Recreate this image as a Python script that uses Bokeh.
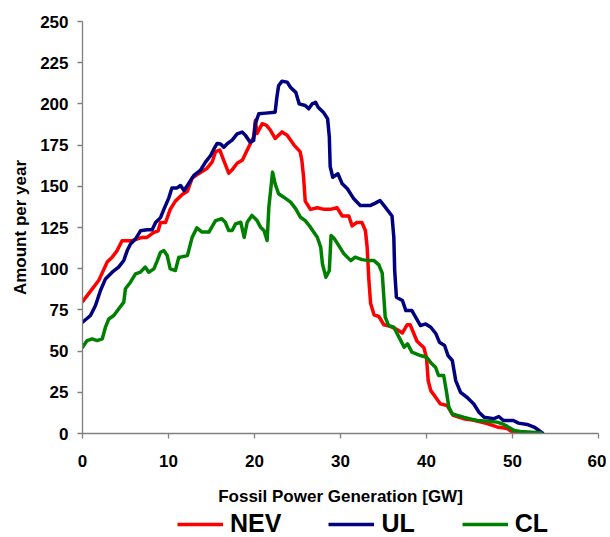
from bokeh.plotting import figure
from bokeh.models import Range1d, Legend, LegendItem, FixedTicker
from bokeh.layouts import column
from bokeh.embed import file_html
from bokeh.resources import INLINE

# ---- data ----
x_ticks = [0, 10, 20, 30, 40, 50, 60]
y_ticks = [0, 25, 50, 75, 100, 125, 150, 175, 200, 225, 250]

nev_x = [0, 0.74, 1.9, 2.87, 3.45, 4.03, 4.6, 5.19, 5.78, 6.94, 7.5, 8.3, 8.8, 9.07, 9.65,
         10.2, 10.8, 11.6, 12.2, 12.75, 13.3, 13.9, 14.5, 15.1, 15.47, 15.97, 16.4, 17.0,
         17.4, 17.98, 18.6, 19.34, 19.9, 20.1, 20.3, 20.9, 21.4, 21.86, 22.4, 23.2, 23.8,
         24.6, 25.3, 25.5, 25.7, 25.9, 26.5, 27.3, 28.1, 28.8, 29.6, 30.2, 30.97, 31.35,
         31.9, 32.5, 32.9, 33.1, 33.3, 33.5, 33.9, 34.46, 35.04, 35.8, 36.6, 37.2, 37.76,
         38.1, 38.9, 39.7, 40.0, 40.2, 40.5, 41.06, 41.6, 42.4, 43.1, 44.3, 45.5, 47.05,
         48.2, 49.4, 49.9, 50.9, 51.6]
nev_y = [80, 85, 93, 104, 107, 111, 117, 117, 117, 119, 119, 122, 123, 128, 128,
         136, 141, 145, 147, 155, 157, 159, 161, 165, 171, 172, 166, 158,
         160, 164, 166, 174, 180, 190, 182, 188, 187, 184, 179, 183, 181,
         175, 171, 166, 156, 141, 136, 137, 136, 136, 137, 132, 132, 126,
         128, 128, 123, 113, 93, 79, 72, 71, 66, 65, 63, 61, 66,
         66, 56, 52, 46, 32, 26, 22, 18, 17, 11, 9, 8, 6,
         4, 3, 1.2, 0.6, 0]

ul_x = [0, 0.93, 1.51, 2.09, 2.67, 3.45, 4.2, 4.8, 5.2, 5.58, 6.16, 6.74, 7.5, 8.1, 8.5,
        9.07, 9.46, 10.04, 10.4, 11.0, 11.4, 11.8, 12.2, 12.95, 13.7, 14.3, 14.9, 15.3,
        15.66, 16.05, 16.43, 16.8, 17.4, 17.98, 18.56, 18.95, 19.5, 19.9, 20.1, 20.5,
        21.3, 22.4, 22.6, 22.8, 23.2, 23.8, 24.2, 24.8, 25.2, 25.9, 26.3, 26.7, 27.1,
        27.4, 28.0, 28.5, 28.7, 28.8, 29.1, 29.7, 30.2, 30.8, 31.55, 32.3, 33.5, 34.05,
        34.6, 35.2, 35.99, 36.2, 36.3, 36.5, 37.2, 37.6, 38.3, 39.3, 39.9, 40.5, 41.1,
        41.5, 42.1, 42.5, 43.0, 43.4, 43.96, 44.7, 45.5, 46.1, 46.7, 47.8, 48.4, 48.95,
        50.1, 50.7, 51.7, 52.5, 53.1, 53.5]
ul_y = [67.5, 71.6, 77.7, 86.8, 93.8, 97.9, 101, 105, 111, 115, 118, 123, 123.6, 123.6, 128,
        131, 136, 143, 149, 149, 150.5, 147.4, 150.5, 156.6, 159.6, 164.7, 168.7, 172.8,
        176, 175.7, 173.7, 175.7, 178, 181.8, 182.9, 180.9, 176.8, 177.8, 188, 194,
        194.4, 195, 204, 211, 213.8, 213.2, 210, 207, 200, 199, 197, 200, 201,
        198, 195, 191, 180, 162, 155.5, 157.6, 151.5, 148.5, 142.4, 138.4, 138.4, 139.8,
        141.4, 137.4, 132, 119, 99, 82.7, 80.7, 74.6, 74.6, 65.5, 66.5, 64.5, 60.5,
        55.4, 53.4, 47.3, 44.3, 32.1, 25, 22, 17.9, 12.9, 9.9, 8.9, 10.3, 7.9,
        7.9, 6.3, 5.5, 3.9, 1.8, 0.2]

cl_x = [0, 0.54, 1.12, 1.7, 2.29, 2.67, 3.06, 3.64, 4.2, 4.8, 4.99, 5.58, 6.16, 6.74, 7.3,
        7.7, 8.3, 8.7, 9.07, 9.46, 9.85, 10.2, 10.8, 11.2, 11.4, 12.2, 12.75, 13.3, 13.9,
        14.7, 15.47, 16.2, 16.6, 17.0, 17.4, 17.8, 18.4, 18.8, 19.15, 19.7, 20.3, 20.7,
        21.1, 21.47, 21.67, 22.1, 22.4, 22.8, 23.4, 24.2, 24.8, 25.35, 25.9, 26.5, 27.3,
        27.7, 27.9, 28.3, 28.7, 28.9, 29.3, 29.8, 30.4, 31.2, 31.7, 32.5, 33.3, 33.9,
        34.46, 34.85, 35.2, 35.6, 36.2, 36.8, 37.4, 37.8, 38.3, 39.3, 40.0, 40.5, 41.05,
        41.4, 42.0, 42.3, 42.6, 42.98, 43.6, 44.3, 45.1, 45.9, 47.05, 48.2, 48.8, 49.4,
        50.2, 50.9, 52.2, 53.3]
cl_y = [52.4, 56.4, 57.4, 56.4, 57.4, 64.5, 69.5, 71.6, 75.6, 79.7, 87.8, 91.8, 96.9, 97.9, 101,
        97.9, 99.9, 104.9, 110, 111, 108, 99.9, 98.9, 107, 107, 108, 119, 124.8, 122.2,
        122.2, 129.2, 130.3, 128.2, 123.2, 123.2, 127.2, 128.2, 119, 128.2, 132.3, 129.2, 125.2,
        123.2, 117.1, 137.4, 158.6, 151.5, 145.5, 143.4, 140.4, 136.3, 131.2, 129.2, 125.2, 119.1,
        113, 102.9, 94.8, 98.9, 120.1, 118.1, 114, 109, 104.9, 107, 105.5, 104.9, 104.9,
        102.3, 97.3, 70.6, 65.5, 64.5, 58.5, 52.4, 54.4, 49.4, 47.3, 46.3, 43, 40.2,
        35.2, 35.2, 26, 16, 11.9, 10.9, 9.9, 8.9, 7.9, 7.5, 6.9, 5.9, 4.3,
        1.8, 1.2, 0.8, 0.4]

series_names = ["NEV", "UL", "CL"]
series_colors = ["#ff0000", "#000080", "#008000"]
series_x = [nev_x, ul_x, cl_x]
series_y = [nev_y, ul_y, cl_y]

FONT = "Liberation Sans"
LW = 3.5
NAN = float("nan")

# ---- main chart ----
p = figure(width=606, height=508, output_backend="svg", toolbar_location=None,
           x_range=Range1d(0, 60), y_range=Range1d(0, 250),
           min_border_left=82, min_border_right=8, min_border_top=21, min_border_bottom=75)
p.outline_line_color = None
p.xgrid.visible = False
p.ygrid.visible = False

for xs, ys, col in zip(series_x, series_y, series_colors):
    p.line(xs, ys, line_color=col, line_width=LW, line_join="round", line_cap="round")

for ax, ticks in [(p.xaxis, x_ticks), (p.yaxis, y_ticks)]:
    ax.ticker = FixedTicker(ticks=ticks)
    ax.axis_line_color = "#808080"
    ax.axis_line_width = 1.3
    ax.major_tick_line_color = "#808080"
    ax.major_tick_line_width = 1.3
    ax.major_tick_in = 0
    ax.major_tick_out = 5
    ax.minor_tick_line_color = None
    ax.major_label_text_font = FONT
    ax.major_label_text_font_style = "bold"
    ax.major_label_text_font_size = "17px"
    ax.major_label_text_color = "black"
    ax.axis_label_text_font = FONT
    ax.axis_label_text_font_style = "bold"
    ax.axis_label_text_font_size = "17px"
    ax.axis_label_text_color = "black"

p.xaxis.axis_label = "Fossil Power Generation [GW]"
p.yaxis.axis_label = "Amount per year"
p.xaxis.major_label_standoff = 16
p.xaxis.axis_label_standoff = 17
p.yaxis.major_label_standoff = 9
p.yaxis.axis_label_standoff = 7

# ---- legend strip below the chart ----
lg = figure(width=606, height=29, output_backend="svg", toolbar_location=None,
            x_range=Range1d(0, 1), y_range=Range1d(0, 1),
            min_border_left=0, min_border_right=0, min_border_top=0, min_border_bottom=0)
lg.outline_line_color = None
lg.axis.visible = False
lg.xgrid.visible = False
lg.ygrid.visible = False
lg_renderers = [lg.line([NAN, NAN], [NAN, NAN], line_color=c, line_width=LW) for c in series_colors]

legend = Legend(
    items=[LegendItem(label=n, renderers=[r]) for n, r in zip(series_names, lg_renderers)],
    location=(95, -1), orientation="horizontal",
    padding=0, margin=0, spacing=47,
    glyph_width=46, glyph_height=16, label_standoff=7, label_height=16,
    label_text_font=FONT, label_text_font_style="bold", label_text_font_size="25px",
    label_text_color="black",
    border_line_alpha=0, background_fill_alpha=0,
)
lg.add_layout(legend)

layout = column(p, lg, spacing=0)
open("out.html", "w").write(file_html(layout, INLINE))
